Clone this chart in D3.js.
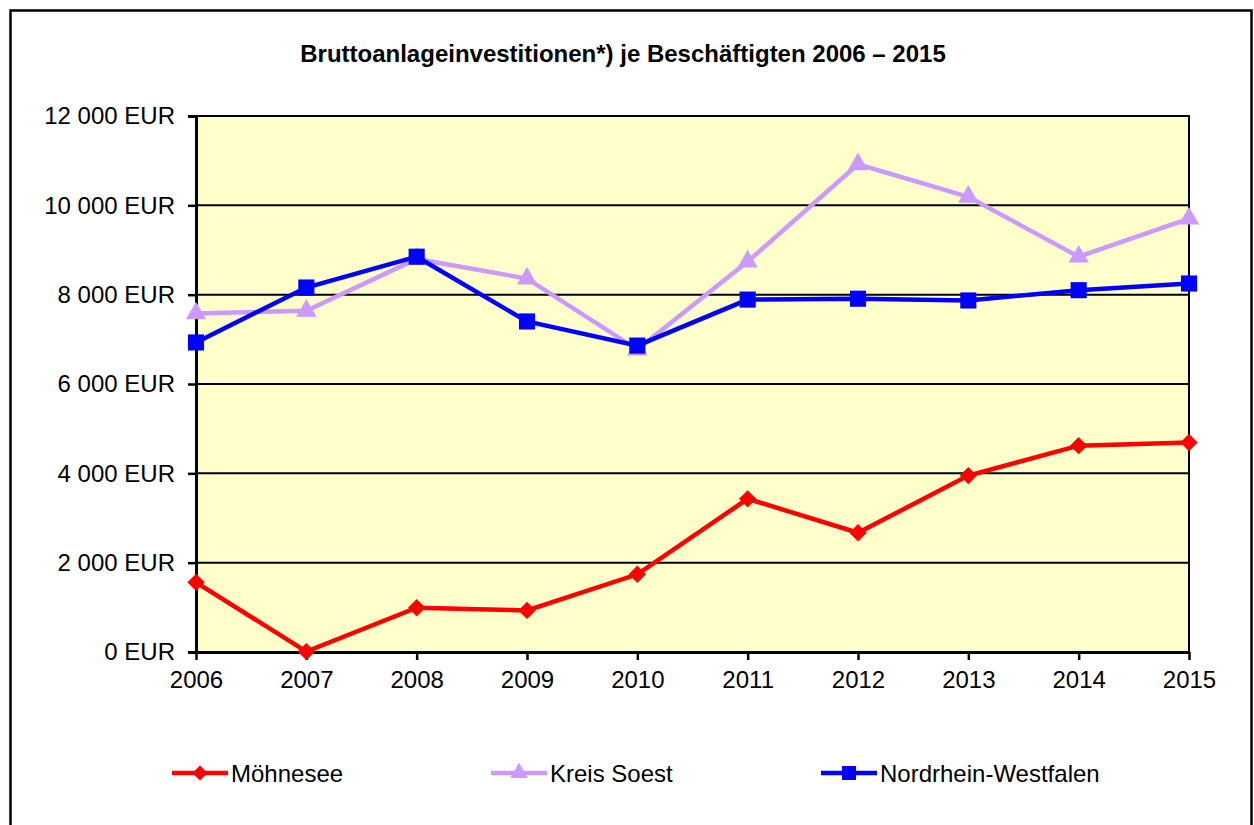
<!DOCTYPE html>
<html lang="de">
<head>
<meta charset="utf-8">
<title>Bruttoanlageinvestitionen je Beschäftigten</title>
<script src="https://d3js.org/d3.v7.min.js"></script>
<style>
  body { margin: 0; background: #fff; }
  text { font-family: Arial, "Liberation Sans", sans-serif; }
</style>
</head>
<body>
<div id="chart"></div>
<script>
// data
var years = [2006, 2007, 2008, 2009, 2010, 2011, 2012, 2013, 2014, 2015];
var moehnesee = [1560, 10, 990, 930, 1740, 3430, 2670, 3950, 4620, 4690];
var kreisSoest = [7580, 7640, 8800, 8360, 6770, 8740, 10920, 10190, 8850, 9700];
var nrw = [6930, 8160, 8850, 7400, 6860, 7890, 7910, 7870, 8100, 8250];
var yTicks = [0, 2000, 4000, 6000, 8000, 10000, 12000];

var w = 1254, h = 825;
var mLeft = 196, mRight = 1189, mTop = 116, mBottom = 652;
var fontSize = "24px";

var svg = d3.select("#chart").append("svg")
  .attr("width", w)
  .attr("height", h);

// outer frame
svg.append("rect")
  .attr("x", 10.5).attr("y", 10.5)
  .attr("width", 1241).attr("height", 830)
  .attr("fill", "#fff")
  .attr("stroke", "#000")
  .attr("stroke-width", 2.5);

// title
svg.append("text")
  .attr("x", 623).attr("y", 62)
  .attr("text-anchor", "middle")
  .attr("font-size", "24px")
  .attr("font-weight", "bold")
  .text("Bruttoanlageinvestitionen*) je Beschäftigten 2006 – 2015");

var x = d3.scalePoint().domain(years).range([mLeft, mRight]);
var y = d3.scaleLinear().domain([0, 12000]).range([mBottom, mTop]);

// plot background
svg.append("rect")
  .attr("x", mLeft).attr("y", mTop)
  .attr("width", mRight - mLeft).attr("height", mBottom - mTop)
  .attr("fill", "#ffffcc")
  .attr("stroke", "#000")
  .attr("stroke-width", 2);

// gridlines
svg.append("g").selectAll("line")
  .data(yTicks.slice(1))
  .join("line")
  .attr("x1", mLeft).attr("x2", mRight)
  .attr("y1", d => y(d)).attr("y2", d => y(d))
  .attr("stroke", "#000")
  .attr("stroke-width", 2);

var fmt = d => d3.format(",")(d).replace(/,/g, " ") + " EUR";

// y axis
var yAxis = svg.append("g")
  .attr("transform", "translate(" + mLeft + ",0)")
  .call(d3.axisLeft(y).tickValues(yTicks).tickSize(8).tickPadding(13).tickFormat(fmt));
yAxis.selectAll("text").attr("font-size", fontSize).attr("fill", "#000")
  .attr("font-family", "Arial, 'Liberation Sans', sans-serif");
yAxis.selectAll("line").attr("stroke-width", 2.5);
yAxis.select(".domain").attr("stroke-width", 3);

// x axis
var xAxis = svg.append("g")
  .attr("transform", "translate(0," + mBottom + ")")
  .call(d3.axisBottom(x).tickSize(8).tickPadding(11).tickSizeOuter(0));
xAxis.selectAll("text").attr("font-size", fontSize).attr("fill", "#000")
  .attr("font-family", "Arial, 'Liberation Sans', sans-serif");
xAxis.selectAll("line").attr("stroke-width", 2.5);
xAxis.select(".domain").attr("stroke-width", 3);

var series = [
  { name: "Möhnesee", values: moehnesee, color: "#ff0000", symbol: d3.symbolSquare, size: 150, rot: 45 },
  { name: "Kreis Soest", values: kreisSoest, color: "#cc99ff", symbol: d3.symbolTriangle, size: 180, rot: 0 },
  { name: "Nordrhein-Westfalen", values: nrw, color: "#0000ff", symbol: d3.symbolSquare, size: 260, rot: 0 }
];

var line = d3.line().x((d, i) => x(years[i])).y(d => y(d));

// Kreis Soest first, then NRW, Möhnesee last
[series[1], series[2], series[0]].forEach(function(s) {
  svg.append("path")
    .datum(s.values)
    .attr("d", line)
    .attr("fill", "none")
    .attr("stroke", s.color)
    .attr("stroke-width", 4.5);
  svg.append("g").selectAll("path")
    .data(s.values)
    .join("path")
    .attr("transform", (d, i) => "translate(" + x(years[i]) + "," + y(d) + ") rotate(" + s.rot + ")")
    .attr("d", d3.symbol().type(s.symbol).size(s.size))
    .attr("fill", s.color);
});

// legend
var legendX = [172, 491, 821];
series.forEach(function(s, i) {
  var g = svg.append("g").attr("transform", "translate(" + legendX[i] + ",773)");
  g.append("line").attr("x1", 0).attr("x2", 56)
    .attr("stroke", s.color).attr("stroke-width", 4.5);
  g.append("path").attr("transform", "translate(28,0) rotate(" + s.rot + ")")
    .attr("d", d3.symbol().type(s.symbol).size(s.size * 0.75))
    .attr("fill", s.color);
  g.append("text").attr("x", 59).attr("y", 8.5)
    .attr("font-size", fontSize)
    .text(s.name);
});
</script>
</body>
</html>
